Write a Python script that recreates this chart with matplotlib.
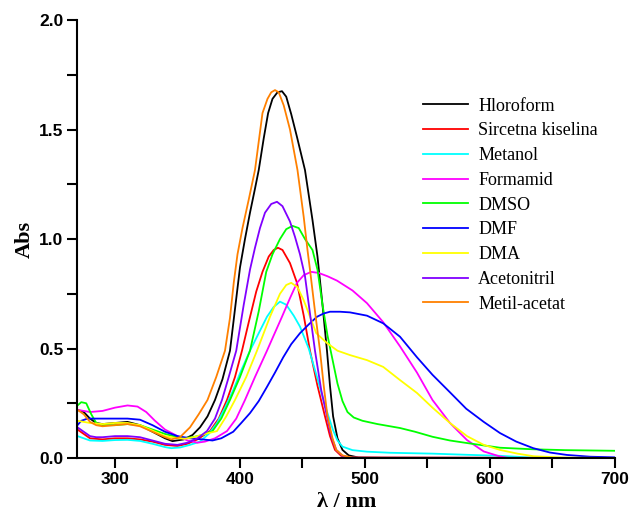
import matplotlib
matplotlib.use("Agg")
import matplotlib.pyplot as plt
from matplotlib.ticker import MultipleLocator

# UV-Vis spectra of one compound in nine solvents
hloroform_nm = [270, 275, 280, 285, 290, 300, 310, 320, 330, 340, 346, 355, 362, 368, 374, 380, 386,
                392, 396, 400, 404, 408, 412, 415, 419, 422.5, 426, 430, 433.6, 437, 441, 445.6, 452,
                458, 462, 466, 469.6, 472, 474.5, 478, 482, 487, 495, 520, 700]
hloroform_abs = [0.22, 0.21, 0.18, 0.16, 0.155, 0.16, 0.165, 0.15, 0.12, 0.09, 0.077, 0.085, 0.105, 0.14,
                 0.19, 0.265, 0.36, 0.49, 0.68, 0.87, 1.0, 1.12, 1.23, 1.315, 1.46, 1.575, 1.64, 1.67,
                 1.675, 1.65, 1.57, 1.466, 1.315, 1.087, 0.92, 0.7, 0.49, 0.33, 0.19, 0.09, 0.037,
                 0.012, 0.002, 0.0, 0.0]

sircetna_nm = [270, 275, 280, 290, 300, 310, 320, 330, 340, 350, 358, 366, 376, 383, 389.6, 396, 401.6,
               407, 413, 418, 423, 427, 430.4, 434, 440, 445.6, 451, 456, 462, 468, 472, 476, 481, 488, 700]
sircetna_abs = [0.13, 0.11, 0.09, 0.085, 0.09, 0.09, 0.085, 0.075, 0.06, 0.055, 0.065, 0.085, 0.123,
                0.18, 0.265, 0.37, 0.49, 0.62, 0.76, 0.85, 0.92, 0.95, 0.96, 0.95, 0.89, 0.8, 0.65,
                0.49, 0.33, 0.19, 0.1, 0.037, 0.01, 0.002, 0.0]

metanol_nm = [270, 275, 280, 290, 300, 310, 320, 330, 340, 345, 352, 360, 368, 375, 381.6, 388, 394.6,
              401, 408, 415, 421.6, 427, 432, 437, 443, 448, 455, 461.6, 468, 474.4, 478, 482, 490,
              501.6, 520, 554, 580, 608, 630, 650, 700]
metanol_abs = [0.1, 0.09, 0.08, 0.078, 0.082, 0.083, 0.078, 0.065, 0.05, 0.045, 0.048, 0.06, 0.075,
               0.11, 0.16, 0.23, 0.31, 0.4, 0.49, 0.57, 0.645, 0.69, 0.714, 0.7, 0.65, 0.6, 0.5, 0.37,
               0.24, 0.128, 0.08, 0.052, 0.036, 0.029, 0.024, 0.02, 0.015, 0.01, 0.003, 0.0, 0.0]

formamid_nm = [270, 275, 280, 290, 300, 310, 318, 325, 332, 340, 350, 358, 366, 372, 380, 389.6, 397,
               404, 412, 421.6, 427, 433.6, 440, 445.6, 451, 457, 463, 470, 477.6, 490, 501.6, 514.6,
               528, 541.6, 554, 568, 581.6, 595, 608, 615, 700]
formamid_abs = [0.22, 0.215, 0.21, 0.215, 0.23, 0.24, 0.235, 0.21, 0.17, 0.13, 0.1, 0.08, 0.07, 0.075,
                0.09, 0.123, 0.18, 0.265, 0.37, 0.49, 0.56, 0.645, 0.73, 0.8, 0.835, 0.85, 0.845,
                0.83, 0.81, 0.765, 0.707, 0.62, 0.51, 0.39, 0.265, 0.16, 0.082, 0.03, 0.007, 0.0, 0.0]

dmso_nm = [270, 273, 277, 281, 285, 290, 300, 310, 320, 330, 340, 350, 356, 362, 370, 378, 385, 392,
           400, 408, 415, 421, 426, 432, 437, 442, 447, 452, 458, 462, 466, 470, 474, 478, 482, 486,
           491, 498, 510, 528, 540, 554, 568, 582, 608, 634, 660, 700]
dmso_abs = [0.24, 0.255, 0.25, 0.2, 0.16, 0.15, 0.15, 0.155, 0.15, 0.13, 0.11, 0.095, 0.092, 0.095,
            0.105, 0.123, 0.18, 0.265, 0.37, 0.49, 0.67, 0.85, 0.93, 1.0, 1.045, 1.06, 1.05, 1.0,
            0.95, 0.86, 0.7, 0.56, 0.45, 0.34, 0.26, 0.21, 0.185, 0.17, 0.155, 0.137, 0.12, 0.097,
            0.08, 0.068, 0.047, 0.04, 0.036, 0.033]

dmf_nm = [270, 273, 278, 290, 300, 310, 320, 330, 340, 350, 360, 370, 378, 385, 394.6, 401, 408, 415,
          421.6, 428, 434.6, 441, 448, 455, 461.6, 467, 472, 480, 488, 501.6, 514.6, 528, 541.6, 554,
          568, 581, 595, 608, 621, 634.6, 648, 661.6, 680, 700]
dmf_abs = [0.15, 0.17, 0.18, 0.18, 0.18, 0.18, 0.175, 0.15, 0.12, 0.1, 0.09, 0.085, 0.08, 0.09, 0.12,
           0.16, 0.205, 0.26, 0.325, 0.39, 0.46, 0.52, 0.57, 0.61, 0.645, 0.66, 0.668, 0.668, 0.665,
           0.65, 0.615, 0.554, 0.46, 0.38, 0.3, 0.225, 0.165, 0.114, 0.075, 0.045, 0.025, 0.014,
           0.006, 0.003]

dma_nm = [270, 280, 290, 300, 310, 320, 330, 340, 350, 356, 363, 372, 381.6, 389, 396, 405, 413.6, 424,
          432, 437, 441, 446, 451, 456, 461, 469.6, 478, 488, 501.6, 514.6, 528, 541.6, 554, 568,
          581.6, 595, 608, 622, 635, 660, 700]
dma_abs = [0.17, 0.16, 0.155, 0.16, 0.16, 0.15, 0.125, 0.1, 0.09, 0.088, 0.095, 0.11, 0.123, 0.19,
           0.265, 0.37, 0.49, 0.645, 0.75, 0.79, 0.8, 0.78, 0.72, 0.645, 0.57, 0.525, 0.49, 0.47,
           0.447, 0.416, 0.356, 0.297, 0.23, 0.16, 0.1, 0.06, 0.037, 0.02, 0.008, 0.002, 0.0]

acetonitril_nm = [270, 275, 280, 285, 290, 300, 310, 320, 330, 340, 350, 358, 366, 373.6, 380, 385.6,
                  391, 397, 403, 408, 412, 416, 420, 425, 429.6, 434, 440, 444, 448, 452, 456, 460,
                  465, 469.6, 473, 477, 482, 488, 700]
acetonitril_abs = [0.14, 0.12, 0.1, 0.095, 0.095, 0.1, 0.1, 0.095, 0.08, 0.065, 0.06, 0.07, 0.09,
                   0.123, 0.18, 0.265, 0.37, 0.49, 0.7, 0.86, 0.96, 1.05, 1.12, 1.16, 1.17, 1.15,
                   1.08, 1.01, 0.93, 0.83, 0.66, 0.49, 0.31, 0.19, 0.1, 0.037, 0.01, 0.002, 0.0]

metil_acetat_nm = [270, 275, 280, 285, 290, 300, 310, 320, 330, 340, 345, 352, 360, 367, 374, 381,
                   388, 392, 395, 398, 402, 407, 412, 418, 422, 425, 428, 431, 435, 440, 446, 451,
                   454, 456, 460, 464, 467, 470, 474, 477, 482, 490, 700]
metil_acetat_abs = [0.22, 0.2, 0.165, 0.15, 0.145, 0.15, 0.155, 0.145, 0.12, 0.095, 0.085, 0.095,
                    0.14, 0.2, 0.265, 0.37, 0.49, 0.64, 0.8, 0.93, 1.05, 1.18, 1.315, 1.575, 1.64,
                    1.67, 1.68, 1.67, 1.61, 1.5, 1.315, 1.1, 0.95, 0.86, 0.67, 0.49, 0.33, 0.19,
                    0.09, 0.037, 0.012, 0.002, 0.0]

series = [
    ("Hloroform", hloroform_nm, hloroform_abs, "#000000"),
    ("Sircetna kiselina", sircetna_nm, sircetna_abs, "#ff0000"),
    ("Metanol", metanol_nm, metanol_abs, "#00ffff"),
    ("Formamid", formamid_nm, formamid_abs, "#ff00ff"),
    ("DMSO", dmso_nm, dmso_abs, "#00ff00"),
    ("DMF", dmf_nm, dmf_abs, "#0000ff"),
    ("DMA", dma_nm, dma_abs, "#ffff00"),
    ("Acetonitril", acetonitril_nm, acetonitril_abs, "#8000ff"),
    ("Metil-acetat", metil_acetat_nm, metil_acetat_abs, "#ff8000"),
]

fig = plt.figure(figsize=(6.29, 5.2), dpi=100)
ax = fig.add_axes([0.1232, 0.1192, 0.8545, 0.8423])

for name, nm, ab, col in series:
    ax.plot(nm, ab, color=col, lw=1.3, label=name)

ax.set_xlim(270, 700)
ax.set_ylim(0, 2.0)
ax.xaxis.set_major_locator(MultipleLocator(100))
ax.xaxis.set_minor_locator(MultipleLocator(50))
ax.yaxis.set_major_locator(MultipleLocator(0.5))
ax.yaxis.set_minor_locator(MultipleLocator(0.25))
ax.set_xticks([300, 400, 500, 600, 700])
ax.yaxis.set_major_formatter(plt.FormatStrFormatter("%.1f"))

ax.spines["top"].set_visible(False)
ax.spines["right"].set_visible(False)
for s in ("left", "bottom"):
    ax.spines[s].set_linewidth(1.5)
ax.tick_params(which="both", direction="out", length=7, width=1.5, pad=3)
for lab in ax.get_xticklabels() + ax.get_yticklabels():
    lab.set_fontfamily("Liberation Sans")
    lab.set_fontweight("bold")
    lab.set_fontsize(12.5)

ax.set_xlabel("λ / nm", fontfamily="Liberation Serif", fontweight="bold", fontsize=16, labelpad=4)
ax.set_ylabel("Abs", fontfamily="Liberation Serif", fontweight="bold", fontsize=16, labelpad=3)

ax.legend(loc="upper left", bbox_to_anchor=(0.643, 0.823), frameon=False,
          prop={"family": "Liberation Serif", "size": 13},
          handlelength=2.5, handletextpad=0.55, labelspacing=0.43,
          borderpad=0, borderaxespad=0)

fig.savefig("out.png", dpi=100)
